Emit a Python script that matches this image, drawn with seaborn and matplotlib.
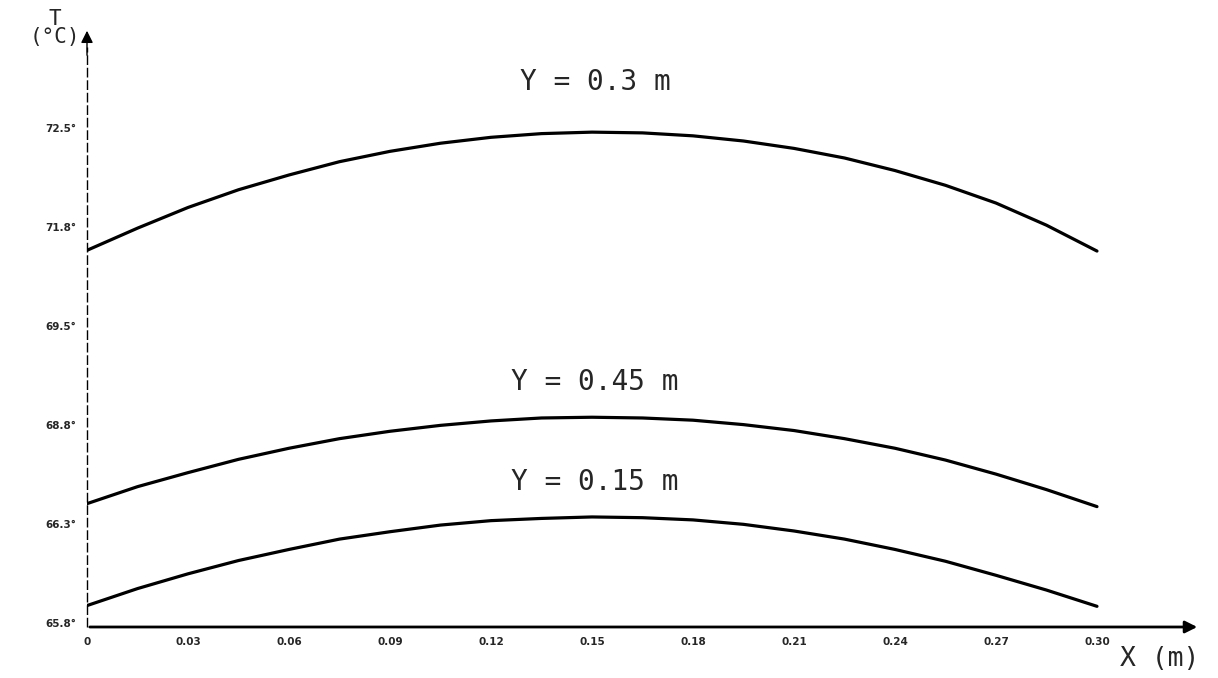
import numpy as np
import pandas as pd
import matplotlib
matplotlib.use("Agg")
import matplotlib.pyplot as plt
import seaborn as sns

# X positions (m)
x_pos = [0.0, 0.015, 0.03, 0.045, 0.06, 0.075, 0.09, 0.105, 0.12, 0.135, 0.15,
         0.165, 0.18, 0.195, 0.21, 0.225, 0.24, 0.255, 0.27, 0.285, 0.30]

# temperature profiles (deg C)
t_y030 = [70.85, 71.15, 71.43, 71.67, 71.87, 72.05, 72.19, 72.30, 72.38, 72.43, 72.45,
          72.44, 72.40, 72.33, 72.23, 72.10, 71.93, 71.73, 71.49, 71.19, 70.84]
t_y045 = [67.42, 67.65, 67.84, 68.02, 68.17, 68.30, 68.40, 68.48, 68.54, 68.58, 68.59,
          68.58, 68.55, 68.49, 68.41, 68.30, 68.17, 68.01, 67.82, 67.61, 67.38]
t_y015 = [66.04, 66.27, 66.47, 66.65, 66.80, 66.94, 67.04, 67.13, 67.19, 67.22, 67.24,
          67.23, 67.20, 67.14, 67.05, 66.94, 66.80, 66.64, 66.45, 66.25, 66.03]

curve_names = ["Y = 0.3 m", "Y = 0.45 m", "Y = 0.15 m"]

x_ticks = [0.0, 0.03, 0.06, 0.09, 0.12, 0.15, 0.18, 0.21, 0.24, 0.27, 0.30]
x_ticklabels = ["0", "0.03", "0.06", "0.09", "0.12", "0.15", "0.18", "0.21", "0.24", "0.27", "0.30"]
y_ticks = [65.8, 67.14, 68.48, 69.82, 71.16, 72.5]
y_ticklabels = ["65.8°", "66.3°", "68.8°", "69.5°", "71.8°", "72.5°"]

df = pd.DataFrame({
    "X": x_pos * 3,
    "T": t_y030 + t_y045 + t_y015,
    "curve": sum([[n] * len(x_pos) for n in curve_names], []),
})

sns.set_style("white")
plt.rcParams['font.family'] = ['DejaVu Sans']

fig = plt.figure(figsize=(12.18, 6.78), dpi=100)
ax = fig.add_axes([87 / 1218, 51 / 678, (1200 - 87) / 1218, (627 - 28) / 678])

sns.lineplot(data=df, x="X", y="T", units="curve", estimator=None,
             color="black", linewidth=2.3, ax=ax, legend=False)

ax.set_xlim(0, 0.3306)
ax.set_ylim(65.75, 73.86)
for s in ax.spines.values():
    s.set_visible(False)

# axes with arrows (y axis drawn broken like the plotter trace)
ax.plot([0, 0], [65.75, 73.6], color="black", lw=1.0, ls=(0, (7, 2)),
        transform=ax.transData, clip_on=False)
ax.annotate("", xy=(0.0, 1.0), xytext=(0.0, 0.95), xycoords="axes fraction",
            arrowprops=dict(arrowstyle="-|>", color="black", lw=1.0, mutation_scale=18))
ax.annotate("", xy=(1.0, 0.0), xytext=(0.0, 0.0), xycoords="axes fraction",
            arrowprops=dict(arrowstyle="-|>", color="black", lw=2.0, mutation_scale=18))

ax.set_xticks(x_ticks)
ax.set_xticklabels(x_ticklabels, fontsize=7.5, fontweight="bold")
ax.set_yticks(y_ticks)
ax.set_yticklabels(y_ticklabels, fontsize=7.5, fontweight="bold")
ax.tick_params(axis="both", length=3, width=1, color="black", pad=6, direction="inout")
ax.set_xlabel("")
ax.set_ylabel("")

mono = "DejaVu Sans Mono"
def fig_text(px, py, s, size):
    fig.text(px / 1218, 1 - py / 678, s, ha="center", va="center", fontsize=size,
             family=mono, linespacing=0.85)

fig_text(595, 82, curve_names[0], 20)
fig_text(595, 382, curve_names[1], 20)
fig_text(595, 482, curve_names[2], 20)
fig_text(55, 28, "T\n(°C)", 15)
fig_text(1160, 659, "X (m)", 19)

fig.savefig("out.png", dpi=100)
